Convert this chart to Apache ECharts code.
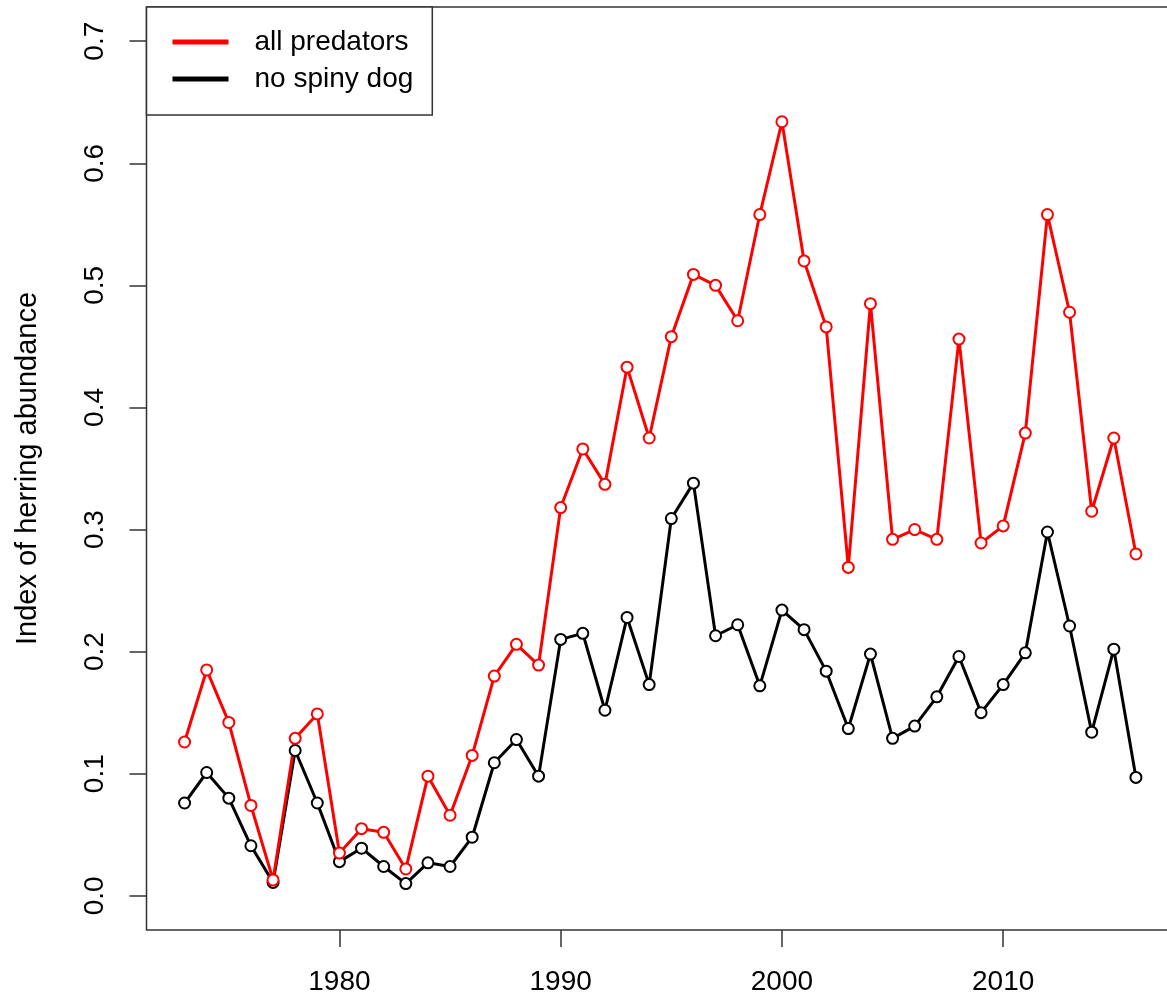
<!DOCTYPE html>
<html>
<head>
<meta charset="utf-8">
<title>Index of herring abundance</title>
<script src="https://cdn.jsdelivr.net/npm/echarts@6/dist/echarts.min.js"></script>
<style>
  html, body { margin: 0; padding: 0; background: #fff; }
  #chart { width: 1167px; height: 1003px; }
</style>
</head>
<body>
<div id="chart"></div>
<script>
// Survey years
const years = [
  1973, 1974, 1975, 1976, 1977, 1978, 1979, 1980, 1981, 1982, 1983,
  1984, 1985, 1986, 1987, 1988, 1989, 1990, 1991, 1992, 1993, 1994,
  1995, 1996, 1997, 1998, 1999, 2000, 2001, 2002, 2003, 2004, 2005,
  2006, 2007, 2008, 2009, 2010, 2011, 2012, 2013, 2014, 2015, 2016
];

// Herring abundance index estimated from all predators
const allPredators = [
  0.126, 0.185, 0.142, 0.074, 0.013, 0.129, 0.149, 0.035, 0.055, 0.052, 0.022,
  0.098, 0.066, 0.115, 0.180, 0.206, 0.189, 0.318, 0.366, 0.337, 0.433, 0.375,
  0.458, 0.509, 0.500, 0.471, 0.558, 0.634, 0.520, 0.466, 0.269, 0.485, 0.292,
  0.300, 0.292, 0.456, 0.289, 0.303, 0.379, 0.558, 0.478, 0.315, 0.375, 0.280
];

// Same index with spiny dogfish excluded
const noSpinyDog = [
  0.076, 0.101, 0.080, 0.041, 0.011, 0.119, 0.076, 0.028, 0.039, 0.024, 0.010,
  0.027, 0.024, 0.048, 0.109, 0.128, 0.098, 0.210, 0.215, 0.152, 0.228, 0.173,
  0.309, 0.338, 0.213, 0.222, 0.172, 0.234, 0.218, 0.184, 0.137, 0.198, 0.129,
  0.139, 0.163, 0.196, 0.150, 0.173, 0.199, 0.298, 0.221, 0.134, 0.202, 0.097
];

// Axis tick positions
const xTicks = [1980, 1990, 2000, 2010];
const yTicks = [0, 0.1, 0.2, 0.3, 0.4, 0.5, 0.6, 0.7];

const seriesNames = ['all predators', 'no spiny dog'];

const FONT = 'Liberation Sans, Arial, sans-serif';
const INK = '#000';
const FRAME = '#333';

const pairs = (vals) => years.map((y, i) => [y, vals[i]]);

const chart = echarts.init(document.getElementById('chart'), null, { renderer: 'canvas' });

const lineSeries = (name, color, vals) => ({
  name: name,
  type: 'line',
  data: pairs(vals),
  symbol: 'emptyCircle',
  symbolSize: 11,
  showAllSymbol: true,
  color: color,
  lineStyle: { color: color, width: 3 },
  itemStyle: { color: color, borderColor: color, borderWidth: 3 },
  emphasis: { disabled: true },
  silent: true
});

chart.setOption({
  animation: false,
  backgroundColor: '#fff',
  textStyle: { fontFamily: FONT },
  grid: {
    left: 146.5,
    top: 7,
    width: 1027.5,
    height: 923,
    outerBoundsMode: 'none',
    containLabel: false,
    show: true,
    borderColor: FRAME,
    borderWidth: 1.5,
    backgroundColor: 'transparent'
  },
  legend: {
    data: seriesNames,
    orient: 'vertical',
    left: 146.5,
    top: 7,
    icon: 'rect',
    itemWidth: 54,
    itemHeight: 3,
    itemGap: 7,
    padding: [20, 19, 21, 26],
    backgroundColor: '#fff',
    borderColor: FRAME,
    borderWidth: 1.5,
    borderRadius: 0,
    selectedMode: false,
    textStyle: {
      fontFamily: FONT,
      fontSize: 28,
      color: INK,
      lineHeight: 30,
      padding: [0, 0, 0, 22]
    }
  },
  xAxis: {
    type: 'value',
    min: 1971.28,
    max: 2017.72,
    position: 'bottom',
    axisLine: { show: false, onZero: false },
    splitLine: { show: false },
    axisTick: {
      show: true,
      inside: false,
      length: 17,
      customValues: xTicks,
      lineStyle: { color: FRAME, width: 1.5 }
    },
    axisLabel: {
      customValues: xTicks,
      margin: 38,
      fontFamily: FONT,
      fontSize: 28,
      color: INK,
      formatter: (v) => String(v)
    }
  },
  yAxis: {
    type: 'value',
    min: -0.028,
    max: 0.728,
    position: 'left',
    name: 'Index of herring abundance',
    nameLocation: 'middle',
    nameGap: 104,
    nameTextStyle: { fontFamily: FONT, fontSize: 29, color: INK },
    axisLine: { show: false, onZero: false },
    splitLine: { show: false },
    axisTick: {
      show: true,
      inside: false,
      length: 17,
      customValues: yTicks,
      lineStyle: { color: FRAME, width: 1.5 }
    },
    axisLabel: {
      customValues: yTicks,
      rotate: 90,
      margin: 37,
      fontFamily: FONT,
      fontSize: 28,
      color: INK,
      formatter: (v) => v.toFixed(1)
    }
  },
  series: [
    lineSeries('no spiny dog', '#000000', noSpinyDog),
    lineSeries('all predators', '#ff0000', allPredators)
  ]
});
</script>
</body>
</html>
